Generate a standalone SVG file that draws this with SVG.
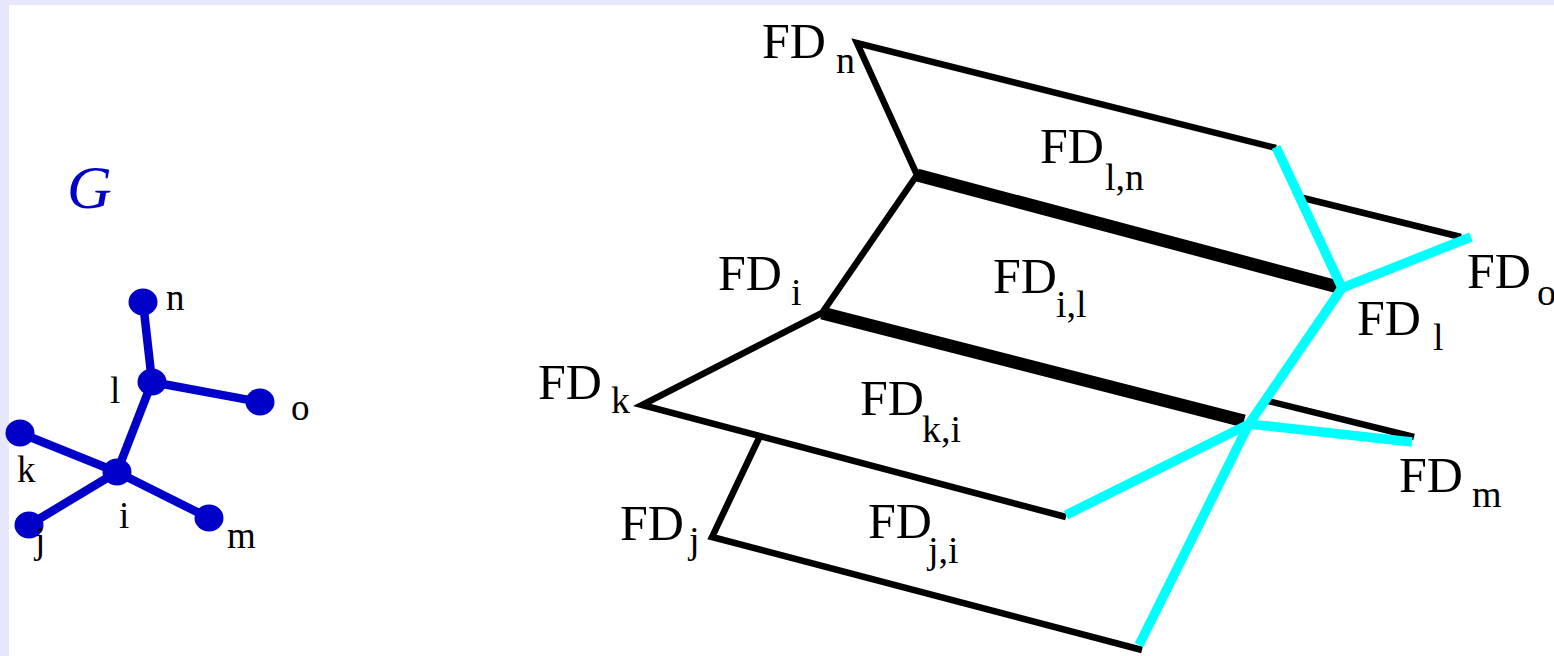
<svg xmlns="http://www.w3.org/2000/svg" width="1554" height="656" viewBox="0 0 1554 656">
<style>
.lbl{font-family:"Liberation Serif","Times New Roman",serif;fill:#000;}
.big{font-size:50px;}
.sub{font-size:38px;}
.gl{font-family:"Liberation Serif","Times New Roman",serif;font-size:37px;fill:#000;}
.ge{stroke:#0000c8;stroke-width:8.5;fill:none;stroke-linecap:round;}
.gn{fill:#0000c8;}
.thin{stroke:#000;stroke-width:6.5;fill:none;stroke-linejoin:miter;stroke-linecap:butt;}
.thick{stroke:#000;stroke-width:13;fill:none;stroke-linecap:butt;}
.cy{stroke:#00ffff;stroke-width:9.5;fill:none;stroke-linecap:butt;stroke-linejoin:miter;}
</style>
<rect x="0" y="0" width="1554" height="656" fill="#e6e6fc"/>
<rect x="9" y="5" width="1545" height="651" fill="#ffffff"/>
<text id="title-G" x="67" y="208" font-family="Liberation Serif,Times New Roman,serif" font-style="italic" font-size="62" fill="#0000c8">G</text>
<g id="graph-edges">
<line class="ge" x1="143" y1="302" x2="152" y2="382"/>
<line class="ge" x1="152" y1="382" x2="260" y2="402"/>
<line class="ge" x1="152" y1="382" x2="117" y2="472"/>
<line class="ge" x1="20" y1="433" x2="117" y2="472"/>
<line class="ge" x1="29" y1="525" x2="117" y2="472"/>
<line class="ge" x1="209" y1="518" x2="117" y2="472"/>
</g>
<g id="node-n"><ellipse class="gn" cx="143" cy="302" rx="14.5" ry="13.5"/><text class="gl" x="166" y="310">n</text></g>
<g id="node-l"><ellipse class="gn" cx="152" cy="382" rx="14.5" ry="13.5"/><text class="gl" x="110" y="403">l</text></g>
<g id="node-o"><ellipse class="gn" cx="260" cy="402" rx="14.5" ry="13.5"/><text class="gl" x="291" y="420">o</text></g>
<g id="node-k"><ellipse class="gn" cx="20" cy="433" rx="14.5" ry="13.5"/><text class="gl" x="17" y="482">k</text></g>
<g id="node-i"><ellipse class="gn" cx="117" cy="472" rx="14.5" ry="13.5"/><text class="gl" x="119" y="528">i</text></g>
<g id="node-j"><ellipse class="gn" cx="29" cy="525" rx="14.5" ry="13.5"/><text class="gl" x="35" y="553">j</text></g>
<g id="node-m"><ellipse class="gn" cx="209" cy="518" rx="14.5" ry="13.5"/><text class="gl" x="227" y="548">m</text></g>

<g id="connectors">
<polyline class="thin" points="1276,148 857,43 917,175 822,313 642,405 1066,517"/>
<polyline class="thin" points="760,436 712,537 1142,650"/>
<line class="thin" x1="1299" y1="197" x2="1461" y2="237"/>
<line class="thin" x1="1264" y1="400" x2="1414" y2="437"/>
<line class="thick" x1="917" y1="175" x2="1338" y2="287"/>
<line class="thick" x1="822" y1="313" x2="1244" y2="421"/>
<polyline class="cy" points="1276,147 1342,288 1471,237"/>
<polyline class="cy" points="1342,288 1249,424 1139,645"/>
<polyline class="cy" points="1066,515 1249,424 1412,442"/>
</g>

<g id="FD-n"><text class="lbl big" x="762" y="58">FD</text><text class="lbl sub" x="836" y="73">n</text></g>
<g id="FD-i"><text class="lbl big" x="718" y="290">FD</text><text class="lbl sub" x="791" y="305">i</text></g>
<g id="FD-k"><text class="lbl big" x="538" y="399">FD</text><text class="lbl sub" x="611" y="413">k</text></g>
<g id="FD-j"><text class="lbl big" x="620" y="540">FD</text><text class="lbl sub" x="689" y="553">j</text></g>
<g id="FD-ln"><text class="lbl big" x="1040" y="163">FD</text><text class="lbl sub" x="1105" y="190">l,n</text></g>
<g id="FD-il"><text class="lbl big" x="993" y="293">FD</text><text class="lbl sub" x="1056" y="317">i,l</text></g>
<g id="FD-ki"><text class="lbl big" x="860" y="415">FD</text><text class="lbl sub" x="922" y="442">k,i</text></g>
<g id="FD-ji"><text class="lbl big" x="868" y="538">FD</text><text class="lbl sub" x="928" y="563">j,i</text></g>
<g id="FD-l"><text class="lbl big" x="1357" y="335">FD</text><text class="lbl sub" x="1433" y="350">l</text></g>
<g id="FD-o"><text class="lbl big" x="1467" y="288">FD</text><text class="lbl sub" x="1537" y="305">o</text></g>
<g id="FD-m"><text class="lbl big" x="1399" y="492">FD</text><text class="lbl sub" x="1472" y="507">m</text></g>
</svg>
